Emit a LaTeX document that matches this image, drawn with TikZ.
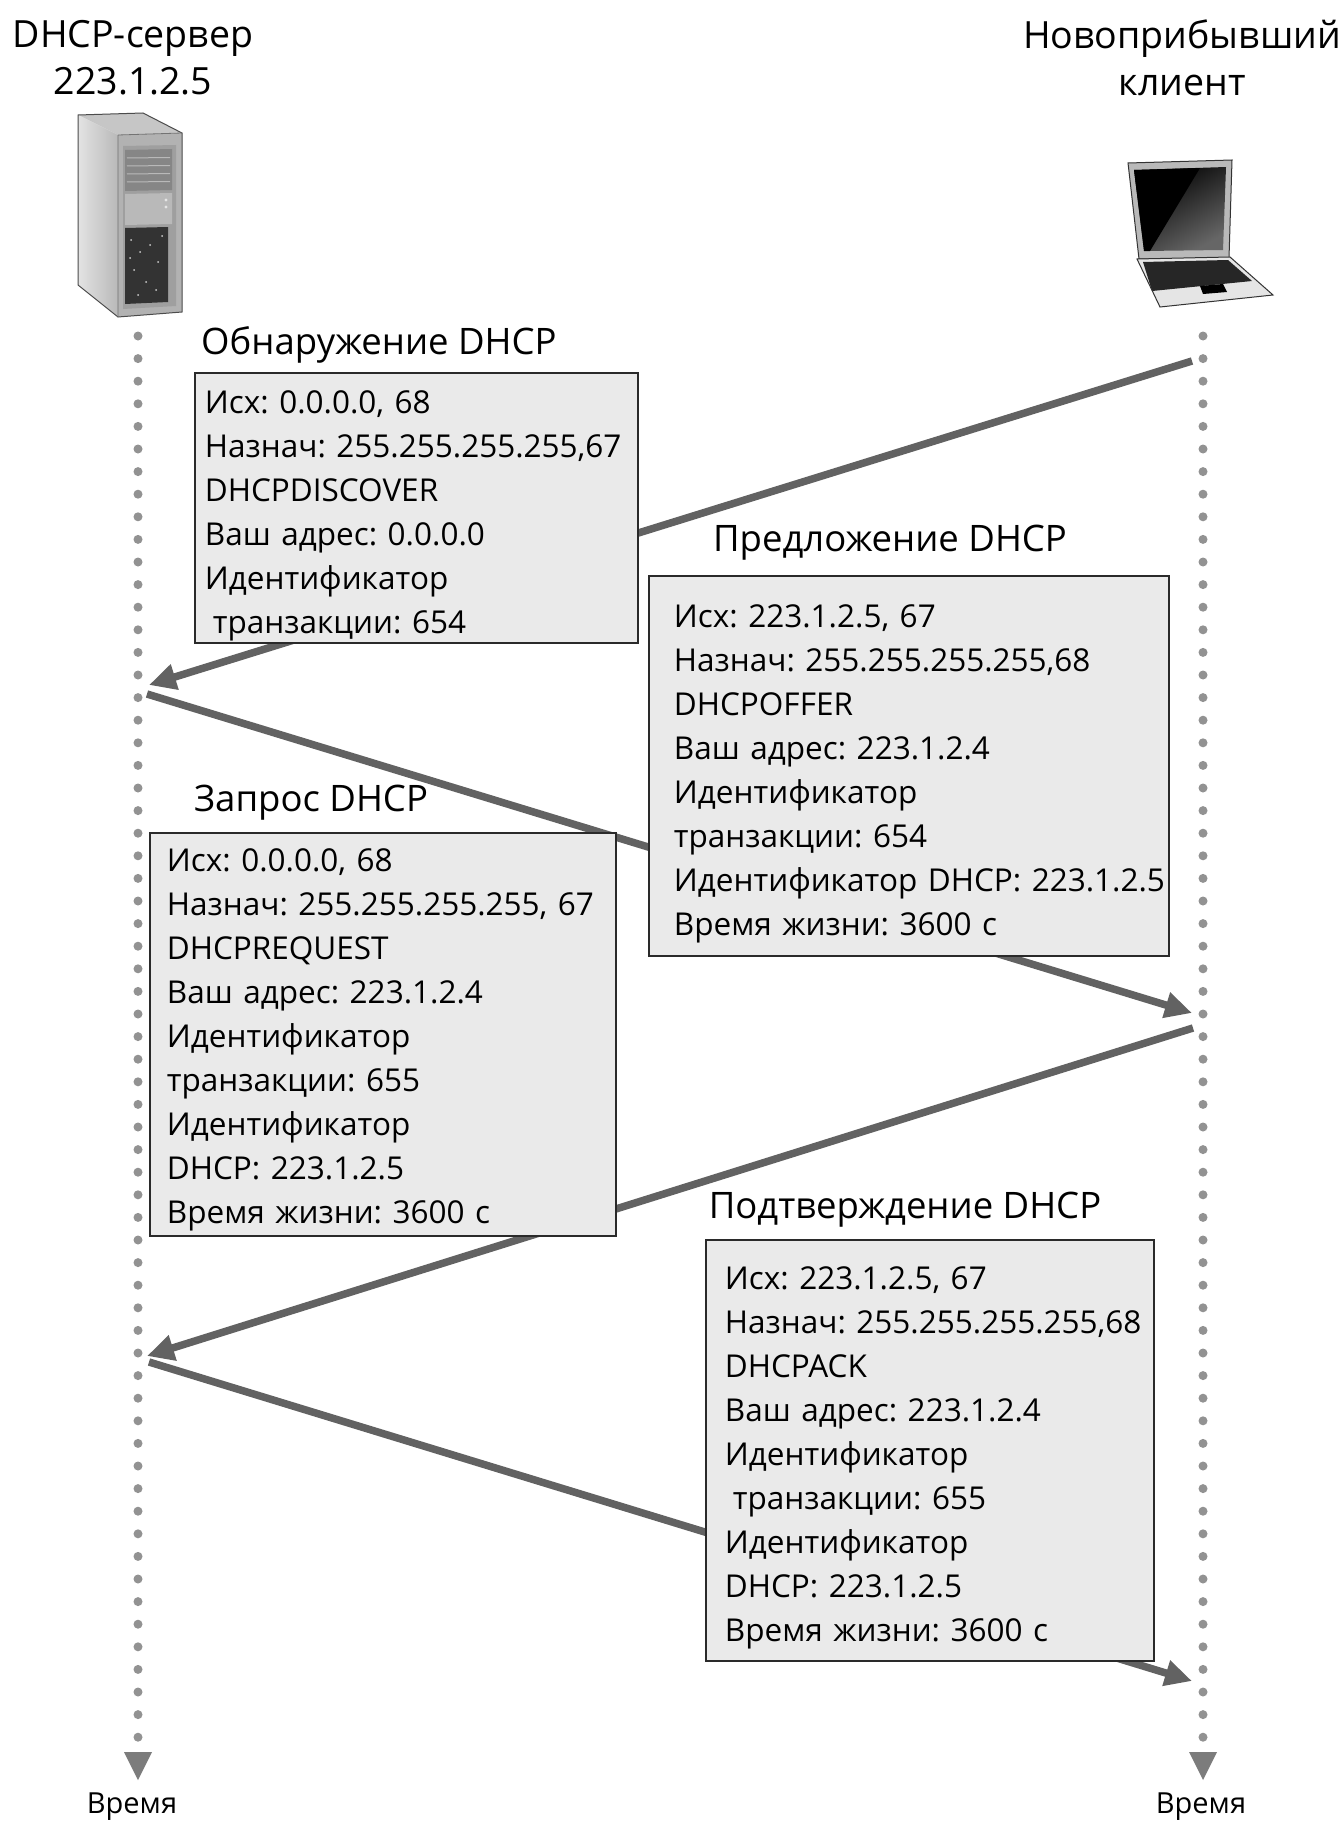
\documentclass[tikz,border=0pt]{standalone}
\usepackage{fontspec}
\setmainfont{Open Sans}
\usetikzlibrary{arrows.meta}
\definecolor{msgcol}{HTML}{626262}
\definecolor{dotcol}{HTML}{929292}
\definecolor{boxfill}{HTML}{EAEAEA}
\definecolor{boxline}{HTML}{2A2A2A}
\frenchspacing
\begin{document}
\begin{tikzpicture}[x=1pt,y=-1pt,
  lifeline/.style={draw=dotcol, line width=9pt, line cap=round, dash pattern=on 0pt off 22.6pt},
  timetip/.style={fill=dotcol!85!black},
  msgarrow/.style={draw=msgcol, line width=7.5pt, -{Triangle[length=27pt,width=25pt]}},
  msgbox/.style={draw=boxline, line width=1.8pt, fill=boxfill, align=left, anchor=north west,
    inner ysep=0pt, text height=38pt, font=\fontsize{31.5}{44}\selectfont},
  msgtitle/.style={font=\fontsize{36.5}{40}\selectfont, inner sep=0pt},
  header/.style={font=\fontsize{37.5}{47}\selectfont, inner sep=0pt, align=center},
  timelabel/.style={font=\fontsize{29}{36}\selectfont, inner sep=0pt}]
\useasboundingbox (0,0) rectangle (1341,1830);
\fill[white] (0,0) rectangle (1341,1830);

% ---- hosts ----
\node[header] (srv) at (133,58) {DHCP-сервер\\223.1.2.5};
\node[header] (cli) at (1182,58) {Новоприбывший\\клиент};

% server tower
\begin{scope}
  \fill[gray!45] (78,115) -- (143,113) -- (182,133) -- (118,135) -- cycle;
  \shade[left color=gray!22, right color=gray!55] (78,115) -- (118,135) -- (118,317) -- (78,285) -- cycle;
  \fill[gray!60] (118,135) -- (182,133) -- (182,312) -- (118,317) -- cycle;
  \fill[gray!75] (123,146) -- (176,145) -- (176,306) -- (123,309) -- cycle;
  \fill[gray!95!white] (125,150) -- (172,149) -- (172,190) -- (125,191) -- cycle;
  \foreach \yy in {158,166,174,182} \draw[gray!55, line width=1pt] (127,\yy) -- (170,\yy-0.5);
  \fill[gray!55] (125,194) -- (172,193) -- (172,224) -- (125,225) -- cycle;
  \fill[gray!20] (166,200) circle (1.6) (166,207) circle (1.6);
  \fill[black!80] (125,228) -- (168,227) -- (168,302) -- (125,304) -- cycle;
  \foreach \xx/\yy in {131/240,140/252,150/245,158/262,134/270,146/282,156/290,138/295,162/236,130/258}
    \fill[gray!40] (\xx,\yy) circle (1);
  \draw[black!70, line width=1pt] (78,115) -- (143,113) -- (182,133) -- (182,312) -- (118,317) -- (78,285) -- cycle;
  \draw[black!55, line width=0.8pt] (118,135) -- (182,133) (118,135) -- (118,317);
\end{scope}

% laptop
\begin{scope}
  \fill[gray!55] (1128,163) -- (1232,160) -- (1229,258) -- (1139,259) -- cycle;
  \shade[top color=black, bottom color=gray!80!black, shading angle=30] (1134,170) -- (1226,167) -- (1223,250) -- (1144,251) -- cycle;
  \fill[black] (1134,170) -- (1200,168) -- (1150,251) -- (1144,251) -- cycle;
  \draw[black!80, line width=1pt] (1128,163) -- (1232,160) -- (1229,258) -- (1139,259) -- cycle;
  \fill[gray!20] (1137,259) -- (1230,257) -- (1273,295) -- (1160,307) -- cycle;
  \fill[black!85] (1143,262) -- (1228,260) -- (1252,281) -- (1152,291) -- cycle;
  \fill[black] (1200,286) -- (1223,284) -- (1227,292) -- (1203,294) -- cycle;
  \draw[black!80, line width=1pt] (1137,259) -- (1230,257) -- (1273,295) -- (1160,307) -- cycle;
\end{scope}

% ---- lifelines ----
\coordinate (Ltop) at (138,336);
\coordinate (Lend) at (138,1738);
\coordinate (Lbot) at (138,1752);
\coordinate (Rtop) at (1203,336);
\coordinate (Rend) at (1203,1738);
\coordinate (Rbot) at (1203,1752);
\draw[lifeline] (Ltop) -- (Lend);
\draw[lifeline] (Rtop) -- (Rend);
\fill[timetip, shift={(Lbot)}] (-14,0) -- (14,0) -- (0,28) -- cycle;
\fill[timetip, shift={(Rbot)}] (-14,0) -- (14,0) -- (0,28) -- cycle;
\node[timelabel] (tL) at (132,1807) {Время};
\node[timelabel] (tR) at (1201,1807) {Время};

% ---- message end points on the lifelines ----
\coordinate (c1) at (1192,361);
\coordinate (s1) at (149,685);
\coordinate (s2) at (147,694);
\coordinate (c2) at (1192,1013);
\coordinate (c3) at (1193,1028);
\coordinate (s3) at (147,1356);
\coordinate (s4) at (149,1362);
\coordinate (c4) at (1192,1681);

\draw[msgarrow] (c1) -- (s1);
\draw[msgarrow] (s2) -- (c2);
\draw[msgarrow] (c3) -- (s3);
\draw[msgarrow] (s4) -- (c4);

% ---- message boxes ----
\node[msgbox, inner xsep=10pt, text width=423pt, minimum height=270pt] (discover) at (194,372)
  {Исх: 0.0.0.0, 68\\\mbox{Назнач: 255.255.255.255,67}\\DHCPDISCOVER\\Ваш адрес: 0.0.0.0\\Идентификатор\\\hspace*{8pt}транзакции: 654};
\node[msgtitle, anchor=west] (discoverT) at (201,345) {Обнаружение DHCP};

\node[msgbox, inner xsep=25pt, text width=470pt, minimum height=380pt] (offer) at (648,575)
  {Исх: 223.1.2.5, 67\\\mbox{Назнач: 255.255.255.255,68}\\DHCPOFFER\\Ваш адрес: 223.1.2.4\\Идентификатор\\транзакции: 654\\\mbox{Идентификатор DHCP: 223.1.2.5}\\Время жизни: 3600 с};
\node[msgtitle] (offerT) at (890,543) {Предложение DHCP};

\node[msgbox, inner xsep=17pt, text width=432pt, minimum height=403pt, text height=33pt] (request) at (149,832)
  {Исх: 0.0.0.0, 68\\\mbox{Назнач: 255.255.255.255, 67}\\DHCPREQUEST\\Ваш адрес: 223.1.2.4\\Идентификатор\\транзакции: 655\\Идентификатор\\DHCP: 223.1.2.5\\Время жизни: 3600 с};
\node[msgtitle] (requestT) at (311,803) {Запрос DHCP};

\node[msgbox, inner xsep=19pt, text width=410pt, minimum height=421pt] (ack) at (705,1239)
  {Исх: 223.1.2.5, 67\\\mbox{Назнач: 255.255.255.255,68}\\DHCPACK\\Ваш адрес: 223.1.2.4\\Идентификатор\\\hspace*{8pt}транзакции: 655\\Идентификатор\\DHCP: 223.1.2.5\\Время жизни: 3600 с};
\node[msgtitle] (ackT) at (905,1210) {Подтверждение DHCP};
\end{tikzpicture}
\end{document}
